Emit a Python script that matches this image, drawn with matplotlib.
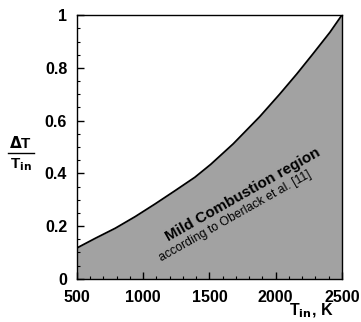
import numpy as np
import matplotlib.pyplot as plt
from matplotlib.ticker import MultipleLocator

# Inlet temperature, K and the upper limit of dT/T_in for mild combustion
t_in = [500, 640, 790, 940, 1090, 1240, 1390, 1510, 1680, 1880, 2030, 2160, 2280, 2410, 2500]
dt_ratio = [0.117, 0.154, 0.192, 0.236, 0.284, 0.334, 0.385, 0.434, 0.512, 0.615,
            0.700, 0.777, 0.852, 0.935, 1.0]

x_ticks = [500, 1000, 1500, 2000, 2500]
y_ticks = [0, 0.2, 0.4, 0.6, 0.8, 1]
y_tick_labels = ['0', '0.2', '0.4', '0.6', '0.8', '1']

plt.rcParams['font.family'] = 'Liberation Sans'
plt.rcParams['font.weight'] = 'bold'

fig = plt.figure(figsize=(3.61, 3.22), dpi=100)
ax = fig.add_axes([0.213, 0.134, 0.734, 0.819])

ax.fill_between(t_in, 0, dt_ratio, color='#a2a2a2', lw=0)
ax.plot(t_in, dt_ratio, color='black', lw=1.3)

ax.set_xlim(500, 2500)
ax.set_ylim(0, 1)
ax.set_xticks(x_ticks)
ax.set_yticks(y_ticks)
ax.set_yticklabels(y_tick_labels)
ax.xaxis.set_minor_locator(MultipleLocator(100))
ax.yaxis.set_minor_locator(MultipleLocator(0.05))
ax.tick_params(which='both', direction='in', top=False, right=False)
ax.tick_params(which='major', length=5, width=1, labelsize=11.5)
ax.tick_params(axis='x', which='major', pad=8)
ax.tick_params(axis='y', which='major', pad=7)
ax.tick_params(which='minor', length=2.5, width=0.8)
for lbl in ax.get_xticklabels() + ax.get_yticklabels():
    lbl.set_fontweight('bold')
for s in ax.spines.values():
    s.set_linewidth(1.0)

# y label as a fraction dT / T_in
fig.text(0.058, 0.555, r'$\mathbf{\Delta}$T', ha='center', va='center',
         fontsize=11, fontweight='bold')
fig.add_artist(plt.Line2D([0.022, 0.094], [0.525, 0.525], color='black', lw=1.0))
fig.text(0.058, 0.49, r'T$_{\mathbf{in}}$', ha='center', va='center',
         fontsize=11, fontweight='bold')

fig.text(0.862, 0.036, r'T$_{\mathbf{in}}$, K', ha='center', va='center',
         fontsize=11.5, fontweight='bold')

ax.text(1753, 0.318, 'Mild Combustion region', rotation=29.5,
        ha='center', va='center', fontsize=11, fontweight='bold')
ax.text(1692, 0.239, 'according to Oberlack et al. [11]', rotation=29.5,
        ha='center', va='center', fontsize=8.8, fontweight='normal')

fig.savefig('out.png', dpi=100)
